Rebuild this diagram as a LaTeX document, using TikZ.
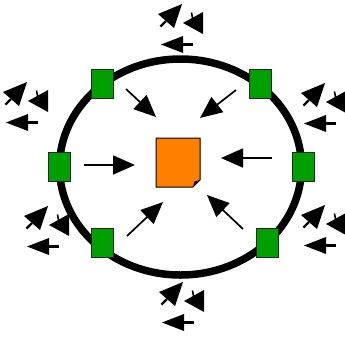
\documentclass[tikz,border=0pt]{standalone}
\usetikzlibrary{arrows.meta,shapes.geometric}
\begin{document}
\definecolor{sqgreen}{RGB}{0,160,0}
\definecolor{docorange}{RGB}{255,128,0}
\tikzset{
  sq/.style={draw=black!85, line width=1pt, fill=sqgreen, minimum width=22pt, minimum height=29pt, inner sep=0pt},
  ring/.style={draw=black, line width=7.5pt, ellipse, minimum width=242pt, minimum height=216pt, inner sep=0pt},
  inarrow/.style={line width=1.7pt, -{Triangle[length=22pt,width=19pt]}},
  icongroup/.pic={
    % up-right arrow
    \fill (20,-41) -- (-4,-31) -- (12,-17) -- cycle;
    \draw[line width=2.2pt] (4,-24) -- (-1.5,-18.5);
    % left head with tick
    \fill (21,-22) -- (41,-33) -- (41,-11) -- cycle;
    \draw[line width=1.6pt] (29.5,-32.5) -- (30.5,-27);
    % left arrow
    \fill (-1,-0.5) -- (21,-9) -- (21,8) -- cycle;
    \draw[line width=2.2pt] (20,-0.5) -- (31,-0.5);
  }
}
\begin{tikzpicture}[x=1pt,y=-1pt]
\useasboundingbox (0,0) rectangle (345,341);
\node[ring] (ring) at (180.5,167) {};
% squares
\node[sq] (stl) at (102,83.5) {};
\node[sq] (str) at (260.5,83.5) {};
\node[sq] (sl) at (59,167) {};
\node[sq] (sr) at (303.5,167) {};
\node[sq] (sbl) at (102,242.5) {};
\node[sq] (sbr) at (267.5,242.5) {};
% document
\coordinate (doc) at (178,162.5);
\draw[line width=1pt, fill=docorange] (156,138) -- (200,138) -- (200,180) -- (193,187) -- (156,187) -- cycle;
\fill (200,180) -- (193,187) -- (194.5,181.5) -- cycle;
% inner arrows
\coordinate (a1s) at (126,89);  \coordinate (a1e) at (156,117);
\coordinate (a2s) at (236,90);  \coordinate (a2e) at (200,118);
\coordinate (a3s) at (84,165);  \coordinate (a3e) at (135,165);
\coordinate (a4s) at (272,158); \coordinate (a4e) at (221,158);
\coordinate (a5s) at (127,236); \coordinate (a5e) at (163,202);
\coordinate (a6s) at (243,229); \coordinate (a6e) at (207,195);
\draw[inarrow] (a1s) -- (a1e);
\draw[inarrow] (a2s) -- (a2e);
\draw[inarrow] (a3s) -- (a3e);
\draw[inarrow] (a4s) -- (a4e);
\draw[inarrow] (a5s) -- (a5e);
\draw[inarrow] (a6s) -- (a6e);
% outer icon groups
\pic at (162,45) {icongroup};
\pic at (7,123) {icongroup};
\pic at (305,124) {icongroup};
\pic at (28,247) {icongroup};
\pic at (305,246) {icongroup};
\pic at (163,323) {icongroup};
\end{tikzpicture}
\end{document}
